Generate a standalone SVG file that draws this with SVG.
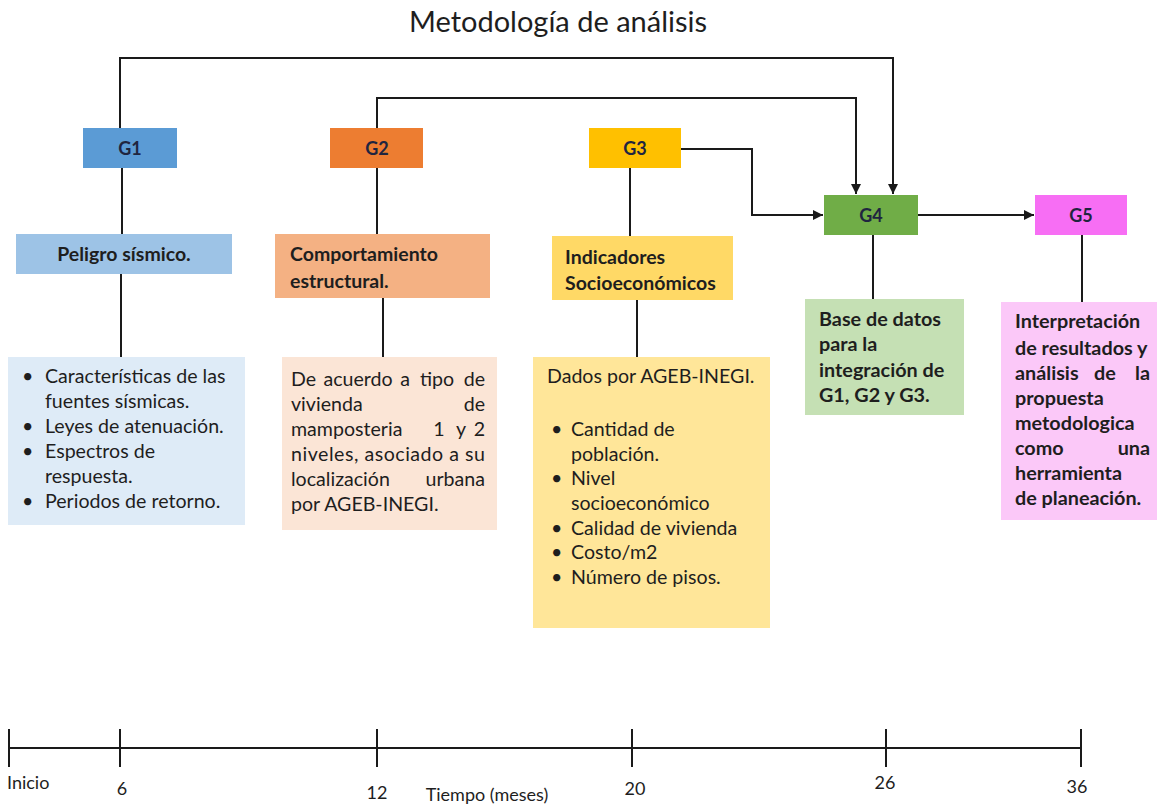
<svg xmlns="http://www.w3.org/2000/svg" width="1157" height="805" viewBox="0 0 1157 805">
<defs>
<marker id="arr" viewBox="0 0 10 10" refX="10" refY="5" markerWidth="10" markerHeight="10" markerUnits="userSpaceOnUse" orient="auto">
<path d="M0,0 L10,5 L0,10 z" fill="#1a1a1a"/>
</marker>
</defs>
<style>
text{font-family:Lato,"Open Sans",sans-serif;fill:#1e1e1e;}
.t{font-size:29px;}
.g{font-size:18px;font-weight:bold;fill:#1f2540;}
.h{font-size:19.5px;font-weight:bold;}
.b{font-size:19.6px;}
.bb{font-size:19.8px;font-weight:bold;}
.ax{font-size:18px;}
.ln{stroke:#1a1a1a;stroke-width:2;fill:none;}
</style>
<rect width="1157" height="805" fill="#ffffff"/>
<text class="t" x="558" y="32" text-anchor="middle">Metodología de análisis</text>

<g id="connectors">
<polyline class="ln" points="120,128 120,58 893,58 893,194" marker-end="url(#arr)"/>
<polyline class="ln" points="377,128 377,98 856,98 856,194" marker-end="url(#arr)"/>
<polyline class="ln" points="681,149 752,149 752,215 823,215" marker-end="url(#arr)"/>
<line class="ln" x1="918" y1="215" x2="1034" y2="215" marker-end="url(#arr)"/>
<line class="ln" x1="122" y1="168" x2="122" y2="234"/>
<line class="ln" x1="121" y1="274" x2="121" y2="357"/>
<line class="ln" x1="377" y1="168" x2="377" y2="234"/>
<line class="ln" x1="383" y1="298" x2="383" y2="357"/>
<line class="ln" x1="630" y1="168" x2="630" y2="236"/>
<line class="ln" x1="637" y1="300" x2="637" y2="357"/>
<line class="ln" x1="873" y1="235" x2="873" y2="299"/>
<line class="ln" x1="1082" y1="235" x2="1082" y2="302"/>
</g>

<g id="G1">
<rect x="83" y="128" width="94" height="40" fill="#5b9bd5"/>
<text class="g" x="130" y="155" text-anchor="middle">G1</text>
</g>
<g id="G2">
<rect x="330" y="128" width="93" height="40" fill="#ed7d31"/>
<text class="g" x="377" y="155" text-anchor="middle">G2</text>
</g>
<g id="G3">
<rect x="589" y="128" width="92" height="40" fill="#ffc000"/>
<text class="g" x="635" y="155" text-anchor="middle">G3</text>
</g>
<g id="G4">
<rect x="824" y="195" width="94" height="40" fill="#70ad47"/>
<text class="g" x="871" y="222" text-anchor="middle">G4</text>
</g>
<g id="G5">
<rect x="1035" y="195" width="92" height="40" fill="#f76ef4"/>
<text class="g" x="1081" y="222" text-anchor="middle">G5</text>
</g>

<g id="peligro">
<rect x="16" y="234" width="216" height="40" fill="#9dc3e6"/>
<text class="h" x="124" y="261" text-anchor="middle">Peligro sísmico.</text>
</g>
<g id="comportamiento">
<rect x="275" y="234" width="215" height="64" fill="#f4b183"/>
<text class="h" x="290" y="261">Comportamiento</text>
<text class="h" x="290" y="288">estructural.</text>
</g>
<g id="indicadores">
<rect x="552" y="236" width="181" height="64" fill="#ffd966"/>
<text class="h" x="565" y="264">Indicadores</text>
<text class="h" x="565" y="290">Socioeconómicos</text>
</g>

<g id="peligro-detalle">
<rect x="8" y="357" width="237" height="168" fill="#deebf7"/>
<g class="b">
<text x="22" y="383">•</text><text x="45" y="383">Características de las</text>
<text x="45" y="408">fuentes sísmicas.</text>
<text x="22" y="433">•</text><text x="45" y="433">Leyes de atenuación.</text>
<text x="22" y="458">•</text><text x="45" y="458">Espectros de</text>
<text x="45" y="483">respuesta.</text>
<text x="22" y="508">•</text><text x="45" y="508">Periodos de retorno.</text>
</g>
</g>

<g id="comportamiento-detalle">
<rect x="282" y="357" width="215" height="173" fill="#fbe5d6"/>
<g class="b">
<text x="291" y="386">De</text><text x="358" y="386" text-anchor="middle">acuerdo</text><text x="405" y="386" text-anchor="middle">a</text><text x="437" y="386" text-anchor="middle">tipo</text><text x="485" y="386" text-anchor="end">de</text>
<text x="291" y="411">vivienda</text><text x="485" y="411" text-anchor="end">de</text>
<text x="291" y="436">mamposteria</text><text x="439" y="436" text-anchor="middle">1</text><text x="461" y="436" text-anchor="middle">y</text><text x="485" y="436" text-anchor="end">2</text>
<text x="291" y="461" textLength="194" lengthAdjust="spacing">niveles, asociado a su</text>
<text x="291" y="486">localización</text><text x="485" y="486" text-anchor="end">urbana</text>
<text x="291" y="511">por AGEB-INEGI.</text>
</g>
</g>

<g id="indicadores-detalle">
<rect x="533" y="357" width="237" height="271" fill="#ffe699"/>
<g class="b">
<text x="547" y="383">Dados por AGEB-INEGI.</text>
<text x="551" y="436">•</text><text x="571" y="436">Cantidad de</text>
<text x="571" y="461">población.</text>
<text x="551" y="485">•</text><text x="571" y="485">Nivel</text>
<text x="571" y="510">socioeconómico</text>
<text x="551" y="535">•</text><text x="571" y="535">Calidad de vivienda</text>
<text x="551" y="559">•</text><text x="571" y="559">Costo/m2</text>
<text x="551" y="584">•</text><text x="571" y="584">Número de pisos.</text>
</g>
</g>

<g id="base-datos">
<rect x="805" y="299" width="159" height="116" fill="#c5e0b4"/>
<g class="bb">
<text x="819" y="326">Base de datos</text>
<text x="819" y="351">para la</text>
<text x="819" y="377">integración de</text>
<text x="819" y="402">G1, G2 y G3.</text>
</g>
</g>

<g id="interpretacion">
<rect x="1001" y="302" width="156" height="218" fill="#fbc8f8"/>
<g class="bb">
<text x="1015" y="328">Interpretación</text>
<text x="1015" y="355">de resultados y</text>
<text x="1015" y="380">análisis</text><text x="1105" y="380" text-anchor="middle">de</text><text x="1150" y="380" text-anchor="end">la</text>
<text x="1015" y="405">propuesta</text>
<text x="1015" y="430">metodologica</text>
<text x="1015" y="455">como</text><text x="1150" y="455" text-anchor="end">una</text>
<text x="1015" y="480">herramienta</text>
<text x="1015" y="505">de planeación.</text>
</g>
</g>

<g id="timeline">
<line class="ln" x1="9" y1="748" x2="1081" y2="748"/>
<line class="ln" x1="9" y1="729" x2="9" y2="767"/>
<line class="ln" x1="120" y1="729" x2="120" y2="767"/>
<line class="ln" x1="377" y1="729" x2="377" y2="767"/>
<line class="ln" x1="632" y1="729" x2="632" y2="767"/>
<line class="ln" x1="886" y1="729" x2="886" y2="767"/>
<line class="ln" x1="1081" y1="729" x2="1081" y2="767"/>
<g class="ax">
<text x="7" y="789">Inicio</text>
<text x="122" y="795" text-anchor="middle">6</text>
<text x="377" y="799" text-anchor="middle">12</text>
<text x="487" y="801" text-anchor="middle">Tiempo (meses)</text>
<text x="635" y="795" text-anchor="middle">20</text>
<text x="885" y="789" text-anchor="middle">26</text>
<text x="1077" y="793" text-anchor="middle">36</text>
</g>
</g>
</svg>
